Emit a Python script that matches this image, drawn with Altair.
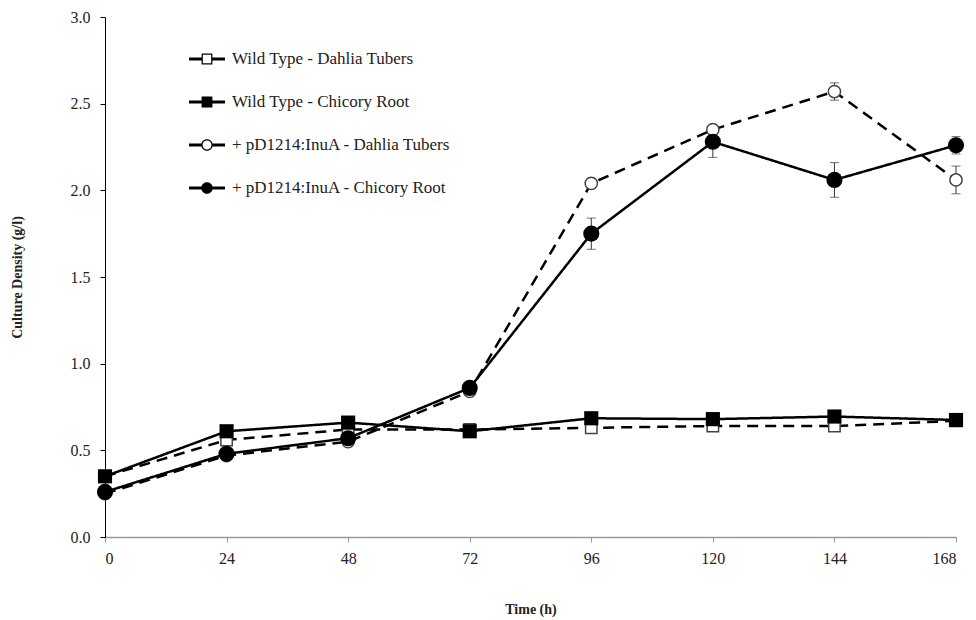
import altair as alt
import pandas as pd

time_h = [0, 24, 48, 72, 96, 120, 144, 168]
series_names = [
    "Wild Type - Dahlia Tubers",
    "Wild Type - Chicory Root",
    "+ pD1214:InuA - Dahlia Tubers",
    "+ pD1214:InuA - Chicory Root",
]
wt_dahlia = [0.35, 0.56, 0.62, 0.62, 0.63, 0.64, 0.64, 0.67]
wt_chicory = [0.35, 0.61, 0.66, 0.61, 0.685, 0.68, 0.695, 0.675]
pd_dahlia = [0.25, 0.47, 0.55, 0.84, 2.04, 2.35, 2.57, 2.06]
pd_chicory = [0.26, 0.48, 0.57, 0.86, 1.75, 2.28, 2.06, 2.26]

wt_dahlia_err = [0.01, 0.01, 0.01, 0.01, 0.015, 0.015, 0.02, 0.01]
wt_chicory_err = [0.01, 0.01, 0.01, 0.01, 0.01, 0.01, 0.01, 0.01]
pd_dahlia_err = [0.01, 0.01, 0.01, 0.01, 0.03, 0.02, 0.05, 0.08]
pd_chicory_err = [0.01, 0.01, 0.01, 0.02, 0.09, 0.09, 0.10, 0.05]

values = [wt_dahlia, wt_chicory, pd_dahlia, pd_chicory]
errors = [wt_dahlia_err, wt_chicory_err, pd_dahlia_err, pd_chicory_err]

rows = []
for name, vals, errs in zip(series_names, values, errors):
    for t, v, e in zip(time_h, vals, errs):
        rows.append({"series": name, "time": t, "value": v,
                     "lo": v - e, "hi": v + e})
df = pd.DataFrame(rows)

FONT = "Liberation Serif"

xscale = alt.Scale(domain=[0, 168], nice=False, zero=True)
yscale = alt.Scale(domain=[0, 3], nice=False)

xaxis = alt.Axis(values=time_h, title="Time (h)", domainColor="#999999",
                 tickColor="#999999", tickSize=5, labelPadding=8,
                 domainWidth=1.5, titleY=76, titleBaseline="alphabetic",
                 labelFont=FONT, labelFontSize=16, labelColor="#222222",
                 titleFont=FONT, titleFontSize=14, titleFontWeight="bold",
                 titleColor="#222222", grid=False)
yaxis = alt.Axis(values=[0, 0.5, 1.0, 1.5, 2.0, 2.5, 3.0], format=".1f",
                 title="Culture Density (g/l)", domainColor="black",
                 tickColor="black", tickSize=5, labelPadding=10,
                 titleX=-88, titleY=260, titleAngle=270,
                 titleBaseline="middle", titleAlign="center",
                 labelFont=FONT, labelFontSize=16, labelColor="#222222",
                 titleFont=FONT, titleFontSize=14, titleFontWeight="bold",
                 titleColor="#222222", grid=False)

base = alt.Chart(df)
XS = alt.X("time:Q", scale=xscale)
YS = alt.Y("value:Q", scale=yscale)

err_rule = base.mark_rule(color="#333333", strokeWidth=1).encode(
    x=XS, y=alt.Y("lo:Q", scale=yscale), y2="hi:Q")
err_top = base.mark_tick(color="#333333", orient="horizontal", size=9,
                         thickness=1).encode(
    x=XS, y=alt.Y("hi:Q", scale=yscale))
err_bot = base.mark_tick(color="#333333", orient="horizontal", size=9,
                         thickness=1).encode(
    x=XS, y=alt.Y("lo:Q", scale=yscale))

line_layers = []
for i, name in enumerate(series_names):
    dash = [11, 7] if i % 2 == 0 else [1, 0]
    enc_x = alt.X("time:Q", scale=xscale, axis=xaxis) if i == 0 else XS
    enc_y = alt.Y("value:Q", scale=yscale, axis=yaxis) if i == 0 else YS
    line_layers.append(
        base.transform_filter(alt.datum.series == name)
        .mark_line(color="black", strokeWidth=2.5, strokeDash=dash)
        .encode(x=enc_x, y=enc_y))

marker_specs = [
    (series_names[0], "square", False, 130),
    (series_names[1], "square", True, 200),
    (series_names[2], "circle", False, 150),
    (series_names[3], "circle", True, 260),
]
point_layers = []
for name, shp, filled, sz in marker_specs:
    if filled:
        m = base.mark_point(shape=shp, filled=True, color="black", size=sz,
                            opacity=1)
    else:
        m = base.mark_point(shape=shp, filled=True, fill="white",
                            stroke="#444444", strokeWidth=1.5, size=sz,
                            opacity=1)
    point_layers.append(
        m.transform_filter(alt.datum.series == name).encode(x=XS, y=YS))

# legend glyphs: short line segments plus a filled or ring-shaped marker
seg = "M-1,-0.08H-0.3V0.08H-1Z M0.3,-0.08H1V0.08H0.3Z "
sq_open = seg + "M-0.3,-0.3H0.3V0.3H-0.3Z M-0.23,-0.23V0.23H0.23V-0.23Z"
sq_fill = seg + "M-0.3,-0.3H0.3V0.3H-0.3Z"
ci_open = (seg + "M-0.32,0A0.32,0.32 0 1,1 0.32,0A0.32,0.32 0 1,1 -0.32,0Z "
           "M-0.25,0A0.25,0.25 0 1,0 0.25,0A0.25,0.25 0 1,0 -0.25,0Z")
ci_fill = seg + "M-0.32,0A0.32,0.32 0 1,1 0.32,0A0.32,0.32 0 1,1 -0.32,0Z"

legend_layer = base.mark_point(
    filled=True, color="black", strokeWidth=0, opacity=0).encode(
    x=XS, y=YS,
    shape=alt.Shape("series:N",
                    scale=alt.Scale(domain=series_names,
                                    range=[sq_open, sq_fill, ci_open, ci_fill]),
                    legend=alt.Legend(title=None, orient="none",
                                      legendX=84, legendY=24,
                                      symbolSize=1296, symbolStrokeWidth=0,
                                      rowPadding=17, labelOffset=7,
                                      labelLimit=400,
                                      labelFont=FONT, labelFontSize=17,
                                      labelColor="#222222")),
)

chart = alt.layer(
    *line_layers, err_rule, err_top, err_bot, *point_layers, legend_layer
).properties(
    width=851, height=520,
    autosize=alt.AutoSizeParams(type="none"),
    padding={"left": 97, "top": 9, "right": 12, "bottom": 80},
).configure_view(stroke=None)

chart.save("out.html", embed_options={"renderer": "svg", "actions": False})
